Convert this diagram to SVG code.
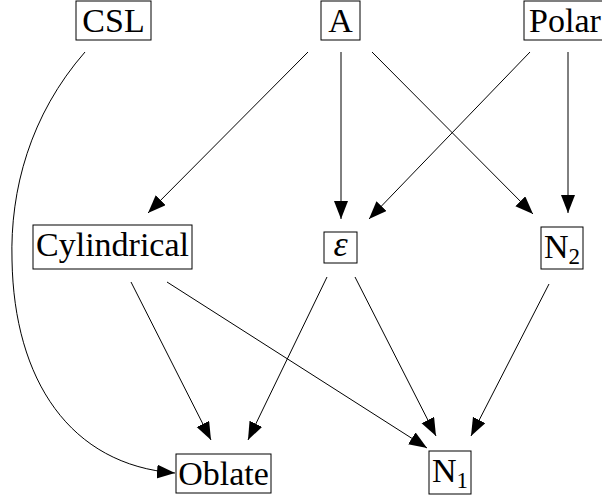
<svg xmlns="http://www.w3.org/2000/svg" width="602" height="501" viewBox="0 0 602 501">
<defs>
<marker id="ah" markerUnits="userSpaceOnUse" markerWidth="20" markerHeight="16" refX="18" refY="7" orient="auto">
<path d="M0,0 L18,7 L0,14 z" fill="#000"/>
</marker>
<style>
rect{fill:#fff;stroke:#000;stroke-width:1}
text{font-family:"Liberation Serif","Times New Roman",serif;font-size:34px;fill:#000;text-anchor:middle}
.sub{font-size:23px}
.e{fill:none;stroke:#000;stroke-width:1;marker-end:url(#ah)}
</style>
</defs>
<rect x="0" y="0" width="602" height="501" style="fill:#fff;stroke:none"/>
<g id="edges">
<path class="e" d="M85,52 C30,115 10,190 12,260 C14,380 70,465 175,473"/>
<line class="e" x1="308" y1="52" x2="148" y2="213"/>
<line class="e" x1="341" y1="52" x2="341" y2="219"/>
<line class="e" x1="372" y1="52" x2="533" y2="214"/>
<line class="e" x1="530" y1="52" x2="369" y2="219"/>
<line class="e" x1="568" y1="52" x2="568" y2="213"/>
<line class="e" x1="131" y1="282" x2="211" y2="440"/>
<line class="e" x1="167" y1="282" x2="427" y2="448"/>
<line class="e" x1="327" y1="277" x2="248" y2="440"/>
<line class="e" x1="355" y1="277" x2="436" y2="436"/>
<line class="e" x1="549" y1="284" x2="471" y2="436"/>
</g>
<g id="CSL"><rect x="76" y="1" width="75" height="39"/><text x="113.5" y="32">CSL</text></g>
<g id="A"><rect x="321" y="1" width="39" height="39"/><text x="340.5" y="32">A</text></g>
<g id="Polar"><rect x="524" y="1" width="84" height="39"/><text x="565" y="32">Polar</text></g>
<g id="Cylindrical"><rect x="33" y="225" width="159" height="44"/><text x="112.5" y="256">Cylindrical</text></g>
<g id="epsilon"><rect x="324" y="232" width="33" height="31"/><text x="340.5" y="256" style="font-style:italic;font-size:36px">ε</text></g>
<g id="N2"><rect x="541" y="227" width="42" height="42"/><text x="562" y="258">N<tspan class="sub" dy="6">2</tspan></text></g>
<g id="Oblate"><rect x="176" y="454" width="95" height="39"/><text x="223.5" y="485">Oblate</text></g>
<g id="N1"><rect x="429" y="451" width="42" height="43"/><text x="450" y="482">N<tspan class="sub" dy="6">1</tspan></text></g>
</svg>
